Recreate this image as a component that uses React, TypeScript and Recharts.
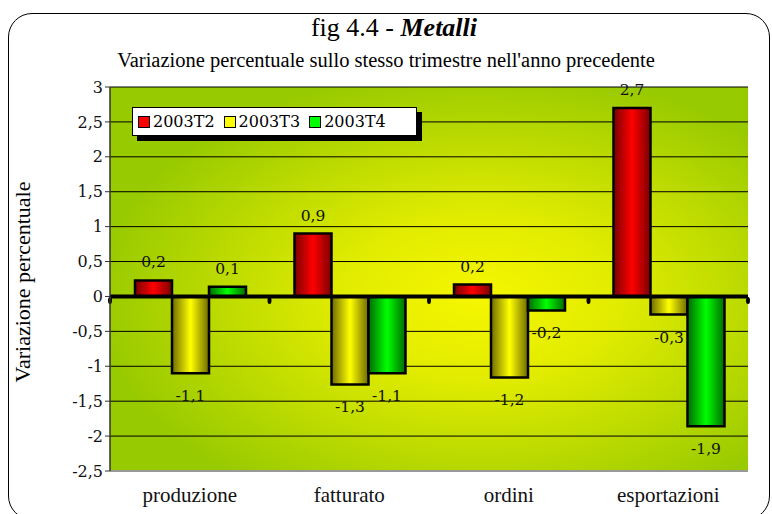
import React from 'react';
import {
  BarChart,
  Bar,
  XAxis,
  YAxis,
  CartesianGrid,
  LabelList,
  ReferenceLine,
} from 'recharts';

const categories = ['produzione', 'fatturato', 'ordini', 'esportazioni'];
const t2 = [0.23, 0.9, 0.17, 2.7];
const t3 = [-1.1, -1.26, -1.16, -0.26];
const t4 = [0.14, -1.1, -0.2, -1.86];
const yTicks = [-2.5, -2, -1.5, -1, -0.5, 0, 0.5, 1, 1.5, 2, 2.5, 3];

const series = [
  { key: 't2', label: '2003T2', dark: '#7a0000', light: '#ff0000' },
  { key: 't3', label: '2003T3', dark: '#6e6a00', light: '#ffff00' },
  { key: 't4', label: '2003T4', dark: '#006a00', light: '#00ff00' },
];

const data = categories.map((name, i) => ({ name, t2: t2[i], t3: t3[i], t4: t4[i] }));

const FONT = '"Liberation Serif", "Times New Roman", serif';
const NUM_FONT = '"DejaVu Serif", Georgia, serif';
const comma = (v: number) => String(v).replace('.', ',');

const ValueLabel = (props: any) => {
  const { x, y, width, height, value } = props;
  const top = Math.min(y, y + height);
  const bottom = Math.max(y, y + height);
  const cy = value >= 0 ? top - 17 : bottom + 24;
  return (
    <text x={x + width / 2} y={cy} textAnchor="middle" dominantBaseline="middle"
      fontFamily={NUM_FONT} fontSize={15.5} fill="#111">
      {value.toFixed(1).replace('.', ',')}
    </text>
  );
};

const ZeroLine = (props: any) => {
  const { x1, x2, y1 } = props;
  const step = (x2 - x1) / categories.length;
  const marks = [];
  for (let i = 0; i <= categories.length; i++) {
    marks.push(<ellipse key={i} cx={x1 + i * step} cy={y1 + 4} rx={2} ry={3.5} fill="#000" />);
  }
  return (
    <g>
      <line x1={x1} x2={x2} y1={y1} y2={y1} stroke="#000" strokeWidth={4} />
      {marks}
    </g>
  );
};

const LegendBox = () => (
  <div style={{
    position: 'absolute', left: 132, top: 107,
    display: 'flex', alignItems: 'center', background: '#fff', border: '1px solid #000',
    boxShadow: '5px 5px 0 #000', height: 27, width: 273, padding: '0 5px', gap: 9,
    fontFamily: NUM_FONT, fontSize: 16, color: '#000',
  }}>
    {series.map((s) => (
      <span key={s.key} style={{ display: 'flex', alignItems: 'center' }}>
        <span style={{ width: 10, height: 10, background: s.light, border: '1.5px solid #000', marginRight: 3 }} />
        {s.label}
      </span>
    ))}
  </div>
);

export default function App() {
  return (
    <div style={{ position: 'absolute', left: 0, top: 0, width: 772, height: 514, background: '#fff', overflow: 'hidden' }}>
      <div style={{
        position: 'absolute', left: 8, top: 13, width: 762, height: 507,
        border: '1.5px solid #000', borderRadius: 24, boxSizing: 'border-box',
      }} />
      <div style={{ position: 'absolute', left: 8, width: 772, top: 13, textAlign: 'center', fontFamily: FONT, fontSize: 26, color: '#000', lineHeight: 'normal' }}>
        fig 4.4 - <b><i>Metalli</i></b>
      </div>
      <div style={{ position: 'absolute', left: 0, width: 772, top: 49, textAlign: 'center', fontFamily: FONT, fontSize: 20.5, color: '#000' }}>
        Variazione percentuale sullo stesso trimestre nell'anno precedente
      </div>
      <div style={{
        position: 'absolute', left: 23, top: 282, transform: 'translate(-50%, -50%) rotate(-90deg)',
        whiteSpace: 'nowrap', fontFamily: FONT, fontSize: 22, color: '#000',
      }}>
        Variazione percentuale
      </div>
      <div style={{ position: 'absolute', left: 0, top: 0 }}>
        <BarChart width={772} height={514} data={data}
          margin={{ top: 87, right: 24, bottom: 13, left: 60 }}
          barCategoryGap={25} barGap={0}>
          <defs>
            <radialGradient id="bg" cx="0.58" cy="0.55" r="0.6">
              <stop offset="0" stopColor="#f6f600" />
              <stop offset="0.35" stopColor="#e2ec00" />
              <stop offset="1" stopColor="#98ca00" />
            </radialGradient>
            {series.map((s) => (
              <linearGradient key={s.key} id={'g' + s.key} x1="0" y1="0" x2="1" y2="0">
                <stop offset="0" stopColor={s.dark} />
                <stop offset="0.5" stopColor={s.light} />
                <stop offset="1" stopColor={s.dark} />
              </linearGradient>
            ))}
          </defs>
          <CartesianGrid vertical={false} stroke="#000" strokeWidth={1} fill="url(#bg)" fillOpacity={1} />
          <XAxis dataKey="name" axisLine={{ stroke: '#999', strokeWidth: 2 }} tickLine={false}
            tickMargin={10} tick={{ fontFamily: FONT, fontSize: 21, fill: '#111' }} height={30} />
          <YAxis domain={[-2.5, 3]} ticks={yTicks} interval={0} width={50}
            axisLine={{ stroke: '#333', strokeWidth: 1.5 }} tickLine={{ stroke: '#333' }} tickSize={5}
            tickFormatter={comma} tick={{ fontFamily: NUM_FONT, fontSize: 16, fill: '#111' }} />
          <YAxis yAxisId="r" orientation="right" width={0} axisLine={{ stroke: '#999', strokeWidth: 2 }}
            tick={false} tickLine={false} />
          <ReferenceLine y={0} shape={ZeroLine} />
          {series.map((s) => (
            <Bar key={s.key} dataKey={s.key} name={s.label} fill={`url(#g${s.key})`}
              stroke="#000" strokeWidth={2.5} isAnimationActive={false}>
              <LabelList dataKey={s.key} content={ValueLabel} />
            </Bar>
          ))}
        </BarChart>
      </div>
      <LegendBox />
    </div>
  );
}
